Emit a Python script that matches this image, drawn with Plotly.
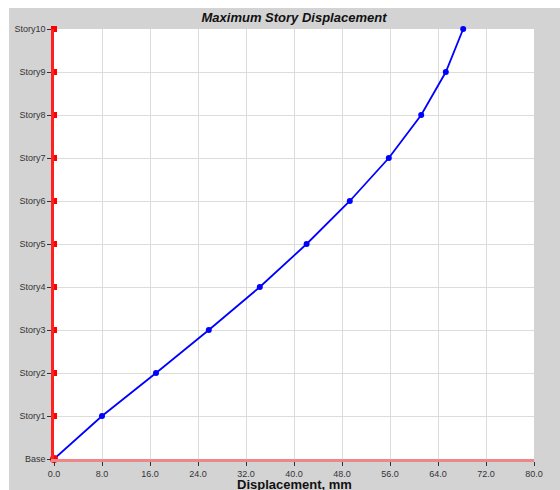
import plotly.graph_objects as go

stories = ["Base", "Story1", "Story2", "Story3", "Story4", "Story5",
           "Story6", "Story7", "Story8", "Story9", "Story10"]
displacement = [0.0, 8.0, 17.0, 25.8, 34.3, 42.1, 49.3, 55.8, 61.2, 65.3, 68.2]
x_ticks = [0, 8, 16, 24, 32, 40, 48, 56, 64, 72, 80]
x_tick_labels = ["0.0", "8.0", "16.0", "24.0", "32.0", "40.0", "48.0", "56.0", "64.0", "72.0", "80.0"]

W, H = 560, 490
L, R, T, B = 54, 26, 29, 31
pw, ph = W - L - R, H - T - B

def px_x(p):
    return (p - L) / pw

def px_y(p):
    return (H - B - p) / ph

fig = go.Figure()

# blue displacement profile
fig.add_trace(go.Scatter(
    x=displacement, y=stories, mode="lines+markers",
    line=dict(color="#0000ff", width=1.8),
    marker=dict(color="#0000ff", size=6, symbol="circle"),
    cliponaxis=False, showlegend=False, hoverinfo="x+y"))

# red markers on the vertical axis
fig.add_trace(go.Scatter(
    x=[0] * (len(stories) - 1), y=stories[1:], mode="markers",
    marker=dict(color="#ff0000", size=6, symbol="square"),
    cliponaxis=False, showlegend=False, hoverinfo="skip"))
fig.add_trace(go.Scatter(
    x=[0], y=stories[:1], mode="markers",
    marker=dict(color="#ff0000", size=8, symbol="circle"),
    cliponaxis=False, showlegend=False, hoverinfo="skip"))

shapes = [
    dict(type="rect", xref="paper", yref="paper", layer="below",
         x0=px_x(9), x1=px_x(W + 5), y0=px_y(H + 5), y1=px_y(8),
         fillcolor="#d3d3d3", line=dict(width=0)),
    dict(type="rect", xref="paper", yref="paper", layer="below",
         x0=0, x1=1, y0=0, y1=1,
         fillcolor="#ffffff", line=dict(width=0)),
]

fig.update_layout(
    width=W, height=H,
    margin=dict(l=L, r=R, t=T, b=B),
    paper_bgcolor="#ffffff", plot_bgcolor="#ffffff",
    font=dict(family="Liberation Sans, Arial, sans-serif", color="#333333", size=9),
    shapes=shapes,
    title=dict(text="<b><i>Maximum Story Displacement</i></b>",
               x=px_x(294) * pw / W + L / W, xanchor="center",
               y=1 - 17 / H, yanchor="middle",
               font=dict(size=13, color="#111111")),
    annotations=[dict(text="<b>Displacement, mm</b>", xref="paper", yref="paper",
                      x=0.5, y=px_y(484), xanchor="center", yanchor="middle",
                      showarrow=False, font=dict(size=13, color="#111111"))],
    xaxis=dict(range=[0, 80], tickvals=x_ticks, ticktext=x_tick_labels,
               showgrid=True, gridcolor="#dcdcdc", gridwidth=1,
               zeroline=False, showline=True, linecolor="#ee8888", linewidth=2.5,
               ticks="outside", ticklen=4, tickcolor="#333333", tickwidth=1,
               tickfont=dict(size=9, color="#333333"), fixedrange=True),
    yaxis=dict(type="category", categoryorder="array", categoryarray=stories,
               range=[0, 10], showgrid=True, gridcolor="#dcdcdc", gridwidth=1,
               zeroline=False, showline=True, linecolor="#ff2020", linewidth=2.5,
               ticks="outside", ticklen=4, tickcolor="#333333", tickwidth=1,
               tickfont=dict(size=9, color="#333333"), fixedrange=True),
)

fig.write_html("out.html")
